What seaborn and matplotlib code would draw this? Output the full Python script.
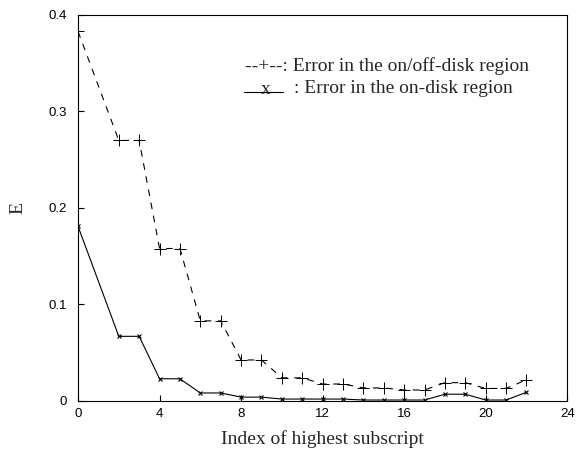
import matplotlib
matplotlib.use("Agg")
import matplotlib.pyplot as plt
import seaborn as sns
import pandas as pd

index = [0, 2, 3, 4, 5, 6, 7, 8, 9, 10, 11, 12, 13, 14, 15, 16, 17, 18, 19, 20, 21, 22]
err_onoff = [0.383, 0.270, 0.270, 0.158, 0.158, 0.083, 0.083, 0.0425, 0.0425, 0.024, 0.024,
             0.0176, 0.0176, 0.0135, 0.0135, 0.0114, 0.0114, 0.019, 0.019, 0.013, 0.013, 0.022]
err_on = [0.181, 0.067, 0.067, 0.023, 0.023, 0.0083, 0.0083, 0.004, 0.004, 0.002, 0.002,
          0.002, 0.002, 0.001, 0.001, 0.001, 0.001, 0.007, 0.007, 0.001, 0.001, 0.009]
x_ticks = [0, 4, 8, 12, 16, 20, 24]
y_ticks = [0, 0.1, 0.2, 0.3, 0.4]
y_ticklabels = ["0", "0.1", "0.2", "0.3", "0.4"]

sns.set_style("white")
plt.rcParams["font.family"] = ["Liberation Sans", "DejaVu Sans"]
serif = ["Liberation Serif", "DejaVu Serif"]

fig = plt.figure(figsize=(5.81, 4.51), dpi=100)
ax = fig.add_axes([0.1343, 0.1109, 0.842, 0.8559])

df1 = pd.DataFrame({"x": index, "y": err_onoff})
df2 = pd.DataFrame({"x": index, "y": err_on})
sns.lineplot(data=df1, x="x", y="y", ax=ax, color="black", linewidth=0.8,
             linestyle=(0, (6, 6)), marker="+", markersize=8, markeredgewidth=0.7,
             markeredgecolor="black", markerfacecolor="black")
sns.lineplot(data=df2, x="x", y="y", ax=ax, color="black", linewidth=0.8,
             marker="x", markersize=3.5, markeredgewidth=0.8,
             markeredgecolor="black", markerfacecolor="black")

ax.set_xlim(0, 24)
ax.set_ylim(0, 0.4)
ax.set_xticks(x_ticks)
ax.set_xticklabels([str(t) for t in x_ticks])
ax.set_yticks(y_ticks)
ax.set_yticklabels(y_ticklabels)
ax.tick_params(axis="both", direction="in", length=4, width=0.8, labelsize=9.5,
               colors="black", top=False, right=False, bottom=True, left=True)
ax.tick_params(axis="y", pad=8)
ax.tick_params(axis="x", pad=5)
for s in ax.spines.values():
    s.set_color("black")
    s.set_linewidth(0.8)

ax.set_xlabel("Index of highest subscript", family=serif, fontsize=14, labelpad=7)
ax.set_ylabel("E", family=serif, fontsize=14, labelpad=16)

fs = 14
ax.text(0.3415, 0.855, "--+--: Error in the on/off-disk region", transform=ax.transAxes,
        family=serif, fontsize=fs, va="baseline", ha="left")
ax.text(0.3845, 0.796, "x", transform=ax.transAxes, family=serif, fontsize=fs,
        va="baseline", ha="center")
ax.plot([0.3395, 0.419], [0.7995, 0.7995], transform=ax.transAxes, color="black", linewidth=0.8)
ax.text(0.4417, 0.798, ": Error in the on-disk region", transform=ax.transAxes,
        family=serif, fontsize=fs, va="baseline", ha="left")

fig.savefig("out.png", dpi=100, facecolor="white")
